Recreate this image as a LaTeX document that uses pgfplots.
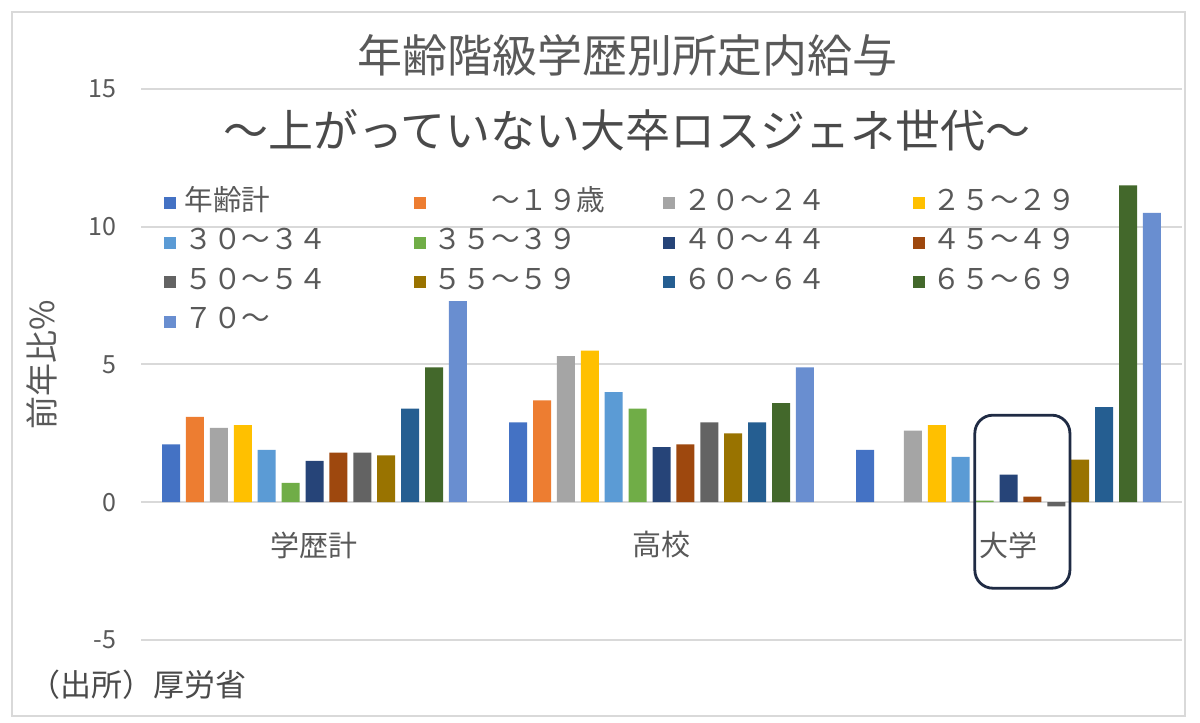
\documentclass[border=0pt]{standalone}
\usepackage{fontspec}
\setmainfont{Noto Sans CJK JP}
\usepackage{pgfplots}
\pgfplotsset{compat=1.18}
\definecolor{c1}{HTML}{4472C4}
\definecolor{c2}{HTML}{ED7D31}
\definecolor{c3}{HTML}{A5A5A5}
\definecolor{c4}{HTML}{FFC000}
\definecolor{c5}{HTML}{5B9BD5}
\definecolor{c6}{HTML}{70AD47}
\definecolor{c7}{HTML}{264478}
\definecolor{c8}{HTML}{9E480E}
\definecolor{c9}{HTML}{636363}
\definecolor{c10}{HTML}{997300}
\definecolor{c11}{HTML}{255E91}
\definecolor{c12}{HTML}{43682B}
\definecolor{c13}{HTML}{698ED0}
\definecolor{txt}{HTML}{595959}
\definecolor{dtxt}{HTML}{4A4A4A}
\definecolor{gridc}{HTML}{D9D9D9}
\definecolor{navy}{HTML}{1F2B44}
\pgfplotsset{sq/.style={fill=#1, draw=none, legend image code/.code={\fill[#1] (0pt,-3pt) rectangle (6pt,3pt);}}}
\begin{document}
\begin{tikzpicture}
\useasboundingbox (0,0) rectangle (600pt,361.5pt);
\fill[white] (0,0) rectangle (600pt,361.5pt);
\draw[gridc, line width=1pt] (6pt,3.5pt) rectangle (592.5pt,355.5pt);
\begin{axis}[
  at={(70.5pt,41.5pt)}, anchor=south west,
  scale only axis, width=520.5pt, height=275.5pt,
  xmin=-0.5, xmax=2.5, ymin=-5, ymax=15,
  ybar=2.95pt, bar width=9pt,
  axis line style={draw=none},
  major tick length=0pt,
  ytick={-5,0,5,10,15}, yticklabels={-5,0,5,10,15},
  xtick={0,1,2}, xticklabels={学歴計,高校,大学},
  ymajorgrids, grid style={gridc, line width=1pt},
  yticklabel style={text=txt, font=\fontsize{12.5}{14}\selectfont, xshift=-9pt},
  xticklabel style={text=txt, font=\fontsize{14.5}{17}\selectfont, anchor=center, yshift=47.5pt},
  legend columns=4,
  legend style={at={(0.0221,0.8185)}, anchor=north west, draw=none, fill=none, inner sep=0pt,
     font=\fontsize{14.3}{17}\selectfont, text=txt,
     nodes={text width=114.75pt, align=left, inner sep=0pt, text height=10.5pt, text depth=3.5pt},
     /tikz/every odd column/.append style={column sep=4pt},
     /tikz/every even column/.append style={column sep=0pt},
     row sep=5.7pt},
]
\addplot[sq=c1] coordinates {(0,2.1) (1,2.9) (2,1.9)};
\addlegendentry{年齢計}
\addplot[sq=c2] coordinates {(0,3.1) (1,3.7)};
\addlegendentry{　　～１９歳}
\addplot[sq=c3] coordinates {(0,2.7) (1,5.3) (2,2.6)};
\addlegendentry{２０～２４}
\addplot[sq=c4] coordinates {(0,2.8) (1,5.5) (2,2.8)};
\addlegendentry{２５～２９}
\addplot[sq=c5] coordinates {(0,1.9) (1,4.0) (2,1.65)};
\addlegendentry{３０～３４}
\addplot[sq=c6] coordinates {(0,0.7) (1,3.4) (2,0.06)};
\addlegendentry{３５～３９}
\addplot[sq=c7] coordinates {(0,1.5) (1,2.0) (2,1.0)};
\addlegendentry{４０～４４}
\addplot[sq=c8] coordinates {(0,1.8) (1,2.1) (2,0.2)};
\addlegendentry{４５～４９}
\addplot[sq=c9] coordinates {(0,1.8) (1,2.9) (2,-0.15)};
\addlegendentry{５０～５４}
\addplot[sq=c10] coordinates {(0,1.7) (1,2.5) (2,1.55)};
\addlegendentry{５５～５９}
\addplot[sq=c11] coordinates {(0,3.4) (1,2.9) (2,3.45)};
\addlegendentry{６０～６４}
\addplot[sq=c12] coordinates {(0,4.9) (1,3.6) (2,11.5)};
\addlegendentry{６５～６９}
\addplot[sq=c13] coordinates {(0,7.3) (1,4.9) (2,10.5)};
\addlegendentry{７０～}
\draw[navy, line width=1.4pt, rounded corners=9pt] (axis cs:1.903,3.16) rectangle (axis cs:2.177,-3.12);
\end{axis}
\node[text=txt, font=\fontsize{22.5}{27}\selectfont] at (313.5pt,334pt) {年齢階級学歴別所定内給与};
\node[text=dtxt, font=\fontsize{22.5}{27}\selectfont] at (313.5pt,296.5pt) {～上がっていない大卒ロスジェネ世代～};
\node[rotate=90, text=txt, font=\fontsize{16.5}{20}\selectfont] at (21pt,179pt) {前年比\%};
\node[anchor=west, text=dtxt, font=\fontsize{15.5}{18}\selectfont, inner sep=0pt] at (14.5pt,19pt) {（出所）厚労省};
\end{tikzpicture}
\end{document}
